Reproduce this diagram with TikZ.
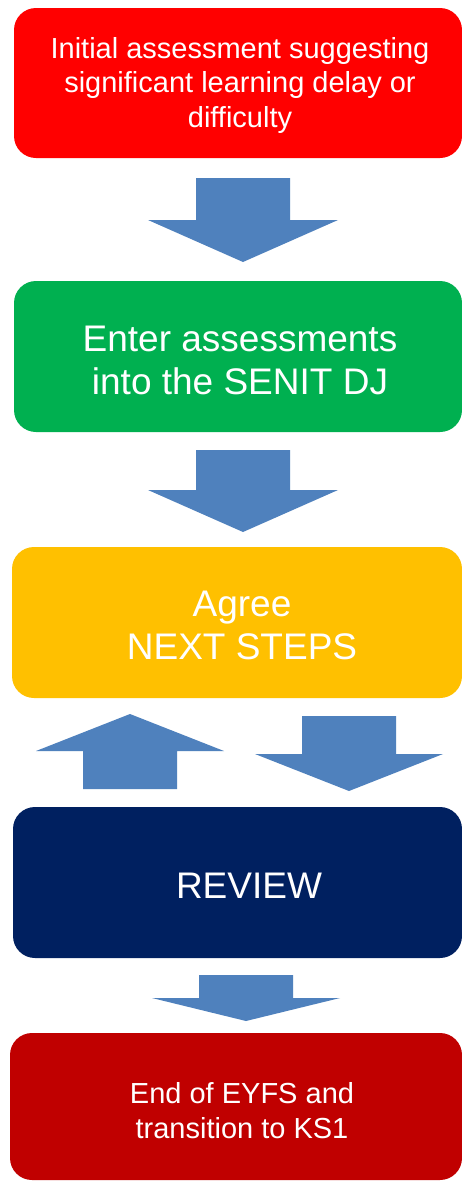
\documentclass[tikz,border=0pt]{standalone}
\usepackage{fontspec}
\setmainfont{Liberation Sans}
\definecolor{cRed}{HTML}{FF0000}
\definecolor{cGreen}{HTML}{00B050}
\definecolor{cYellow}{HTML}{FFC000}
\definecolor{cNavy}{HTML}{002060}
\definecolor{cDarkRed}{HTML}{C00000}
\definecolor{cArrow}{HTML}{4F81BD}
\tikzset{
  box/.style={rectangle, rounded corners=22pt, draw=none, inner sep=0pt},
  txt/.style={text=white, align=center, inner sep=0pt},
  blockarrow/.style={fill=cArrow, draw=none},
}
\begin{document}
\begin{tikzpicture}[x=1pt,y=-1pt]
\useasboundingbox[fill=white] (0,0) rectangle (461,1181);
% boxes
\node[box, fill=cRed, minimum width=448pt, minimum height=150pt] (b1) at (238,83) {};
\node[box, fill=cGreen, minimum width=448pt, minimum height=151pt] (b2) at (238,356.5) {};
\node[box, fill=cYellow, minimum width=450pt, minimum height=151pt] (b3) at (237,622.5) {};
\node[box, fill=cNavy, minimum width=449pt, minimum height=151pt] (b4) at (237.5,882.5) {};
\node[box, fill=cDarkRed, minimum width=452pt, minimum height=147pt] (b5) at (236,1106.5) {};
% texts
\node[txt, font=\fontsize{29}{34.5}\selectfont] (t1) at (240,85) {Initial assessment suggesting\\significant learning delay or\\difficulty};
\node[txt, font=\fontsize{37}{43}\selectfont] (t2) at (240,360) {Enter assessments\\into the SENIT DJ};
\node[txt, font=\fontsize{37}{43}\selectfont] (t3) at (242,625) {Agree\\NEXT STEPS};
\node[txt, font=\fontsize{37}{43}\selectfont] (t4) at (249,886) {REVIEW};
\node[txt, font=\fontsize{29}{35}\selectfont] (t5) at (242,1111) {End of EYFS and\\transition to KS1};
% block arrows
\fill[blockarrow] (196,178) -- (290,178) -- (290,220) -- (338,220) -- (243,262) -- (148,220) -- (196,220) -- cycle;
\fill[blockarrow] (196,450) -- (290,450) -- (290,490) -- (338,490) -- (243,532) -- (148,490) -- (196,490) -- cycle;
\fill[blockarrow] (83,789) -- (177,789) -- (177,751) -- (224,751) -- (130,714) -- (36,751) -- (83,751) -- cycle;
\fill[blockarrow] (302,716) -- (396,716) -- (396,754) -- (443,754) -- (349,791) -- (255,754) -- (302,754) -- cycle;
\fill[blockarrow] (199,975) -- (293,975) -- (293,998) -- (340,998) -- (246,1021) -- (152,998) -- (199,998) -- cycle;
\end{tikzpicture}
\end{document}
